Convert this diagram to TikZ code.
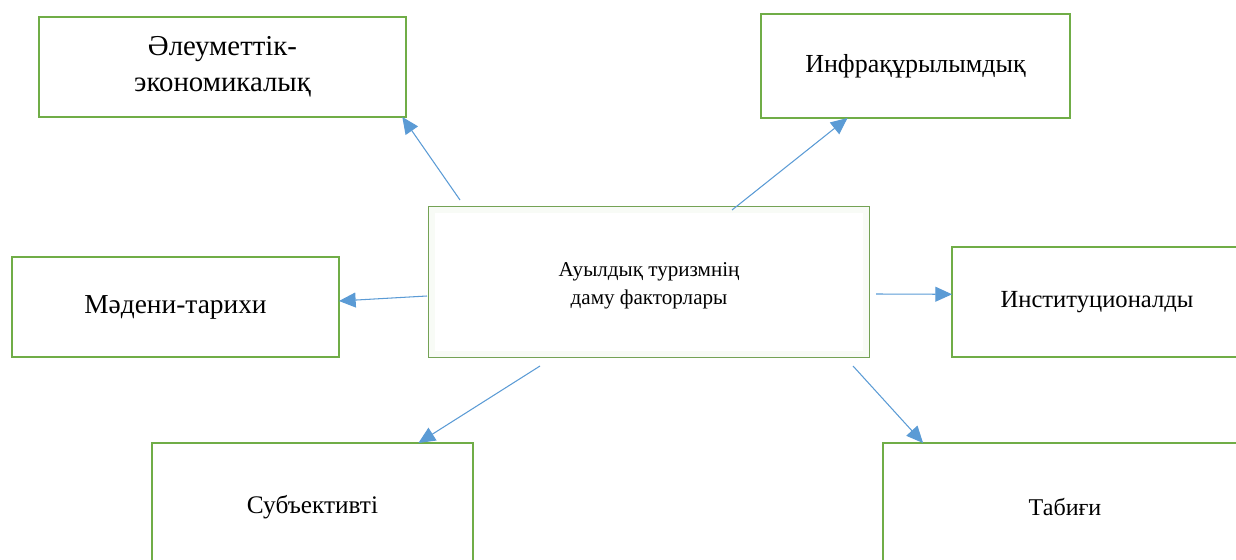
\documentclass[tikz,border=0pt]{standalone}
\usepackage{fontspec}
\setmainfont{Liberation Serif}
\usetikzlibrary{
    arrows.meta,
    calc,
    positioning
}
\definecolor{boxgreen}{HTML}{70AD47}
\definecolor{linkblue}{HTML}{5B9BD5}
\tikzset{
    every picture/.style = {
        > = {Triangle[length = 9.5pt, width = 8.5pt]},
        x = 0.02cm,
        y = -0.02cm
    },
    factor/.style = {
        draw = boxgreen,
        line width = 1.1pt,
        inner sep = 2pt,
        outer sep = 0pt,
        fill = white,
        align = center,
        font = \fontsize{14}{20}\selectfont
    },
    link/.style = {
        ->,
        draw = linkblue,
        line width = 0.6pt
    }
}

\begin{document}
\begin{tikzpicture}

    \useasboundingbox (0, 0) rectangle (1236, 560);
    \clip (0, 0) rectangle (1236, 560);

    \node[factor, minimum width = 7.34cm, minimum height = 2cm,
          font = \fontsize{16.4}{20.5}\selectfont] (soc) at (222.5, 67) {Әлеуметтік-\\экономикалық};
    \node[factor, minimum width = 6.18cm, minimum height = 2.08cm,
          font = \fontsize{14.8}{20}\selectfont] (infra) at (915.5, 66) {Инфрақұрылымдық};
    \node[factor, minimum width = 6.54cm, minimum height = 2cm,
          font = \fontsize{15.6}{20}\selectfont] (cult) at (175.5, 307) {Мәдени-тарихи};
    \node[factor, minimum width = 5.8cm, minimum height = 2.2cm] (inst) at (1097, 302) {Институционалды};
    \node[factor, minimum width = 6.42cm, minimum height = 2.56cm,
          font = \fontsize{14.4}{20}\selectfont] (subj) at (312.5, 507) {Субъективті};
    \node[factor, minimum width = 7.28cm, minimum height = 2.56cm,
          font = \fontsize{13.7}{20}\selectfont] (nat) at (1065, 507) {Табиғи};

    \node[factor, draw = boxgreen!75!gray, line width = 0.9pt, minimum width = 8.8cm, minimum height = 3cm] (rural) at (649, 282) {};
    \draw[boxgreen!5, line width = 3pt] ($(rural.north west) + (3, 3)$) rectangle ($(rural.south east) + (-3, -3)$);
    \node[inner sep = 0pt, align = center, font = \fontsize{12}{16}\selectfont] (ruraltext) at (649, 286) {Ауылдық туризмнің\\даму факторлары};

    \coordinate (fromsoc)   at (460, 200);
    \coordinate (frominfra) at (732, 210);
    \coordinate (fromcult)  at (427, 296);
    \coordinate (frominst)  at (876, 294);
    \coordinate (fromsubj)  at (540, 366);
    \coordinate (fromnat)   at (853, 366);

    \draw[link] (fromsoc)   -- ($(soc.south west)!0.99!(soc.south east)$);
    \draw[link] (frominfra) -- ($(infra.south west)!0.28!(infra.south east)$);
    \draw[link] (fromcult)  -- ($(cult.north east)!0.44!(cult.south east)$);
    \draw[link] (frominst)  -- ($(inst.north west)!0.43!(inst.south west)$);
    \draw[link] (fromsubj)  -- ($(subj.north west)!0.83!(subj.north east)$);
    \draw[link] (fromnat)   -- ($(nat.north west)!0.11!(nat.north east)$);

\end{tikzpicture}
\end{document}
